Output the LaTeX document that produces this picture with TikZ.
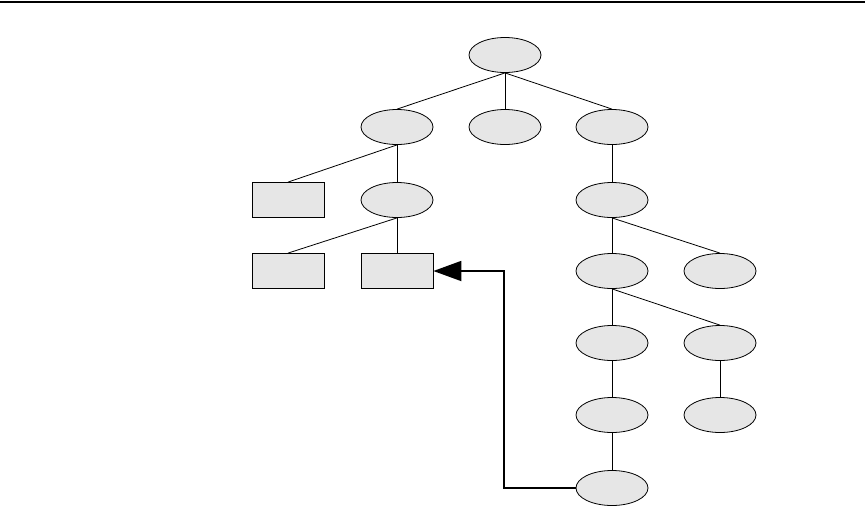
\documentclass[tikz,border=0pt]{standalone}
\usetikzlibrary{shapes.geometric,arrows.meta}
\definecolor{nodegray}{HTML}{E6E6E6}
\begin{document}
\begin{tikzpicture}[x=1pt,y=-1pt,
  ell/.style={ellipse,draw,fill=nodegray,minimum width=72pt,minimum height=35pt,inner sep=0pt,line width=0.8pt},
  boxn/.style={rectangle,draw,fill=nodegray,minimum width=72pt,minimum height=35pt,inner sep=0pt,line width=0.8pt},
  edge/.style={line width=0.8pt},
  link/.style={line width=1.8pt,-{Triangle[length=28pt,width=20pt]}}]
\useasboundingbox (0,0) rectangle (865,507);
\coordinate (tl) at (0,1.5);
\coordinate (tr) at (865,1.5);
\draw[line width=2pt] (tl) -- (tr);
% nodes
\node[ell] (r) at (505,55) {};
\node[ell] (a) at (397,127) {};
\node[ell] (b) at (505,127) {};
\node[ell] (c) at (612,127) {};
\node[boxn] (a1) at (288,200) {};
\node[ell] (a2) at (397,200) {};
\node[boxn] (a21) at (288,271) {};
\node[boxn] (a22) at (397,271) {};
\node[ell] (c1) at (612,200) {};
\node[ell] (c11) at (612,271) {};
\node[ell] (c12) at (720,271) {};
\node[ell] (d1) at (612,343) {};
\node[ell] (d2) at (720,343) {};
\node[ell] (e1) at (612,415) {};
\node[ell] (e2) at (720,415) {};
\node[ell] (f1) at (612,488) {};
\coordinate (bend) at (504,271);
% edges
\draw[edge] (r.south) -- (a.north);
\draw[edge] (r.south) -- (b.north);
\draw[edge] (r.south) -- (c.north);
\draw[edge] (a.south) -- (a1.north);
\draw[edge] (a.south) -- (a2.north);
\draw[edge] (a2.south) -- (a21.north);
\draw[edge] (a2.south) -- (a22.north);
\draw[edge] (c.south) -- (c1.north);
\draw[edge] (c1.south) -- (c11.north);
\draw[edge] (c1.south) -- (c12.north);
\draw[edge] (c11.south) -- (d1.north);
\draw[edge] (c11.south) -- (d2.north);
\draw[edge] (d1.south) -- (e1.north);
\draw[edge] (d2.south) -- (e2.north);
\draw[edge] (e1.south) -- (f1.north);
% link
\draw[link] (f1.west) -| (bend) -- (a22.east);
\end{tikzpicture}
\end{document}
